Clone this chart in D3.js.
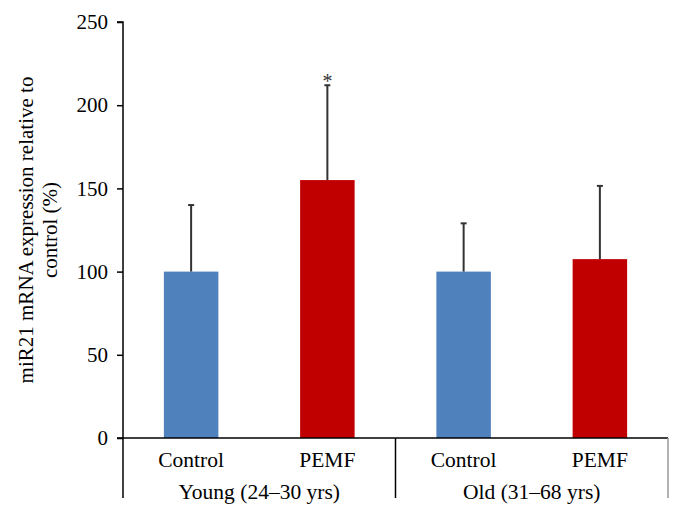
<!DOCTYPE html>
<html>
<head>
<meta charset="utf-8">
<script src="https://cdn.jsdelivr.net/npm/d3@7"></script>
<style>
body { margin:0; background:#fff; }
text { font-family: "Liberation Serif", "Times New Roman", serif; }
</style>
</head>
<body>
<script>
const width = 683;
const height = 520;
const margin = {top:22, right:15, bottom:82, left:123};

const groups = ["Young (24\u201330 yrs)", "Old (31\u201368 yrs)"];
const treatments = ["Control", "PEMF"];
const means = [100, 155, 100, 107.5];
const errors = [40, 57, 29, 44];
const stars = ["", "*", "", ""];
const yTicks = [0, 50, 100, 150, 200, 250];
const colors = {Control:"#4f81bd", PEMF:"#c00000"};

const data = means.map((m,i)=>({
    key: i,
    group: groups[Math.floor(i/2)],
    name: treatments[i%2],
    value: m,
    err: errors[i],
    star: stars[i]
}));

const svg = d3.select("body").append("svg")
.attr("width",width)
.attr("height",height);

const x = d3.scaleBand()
.domain(data.map(d=>d.key))
.range([margin.left, width-margin.right])
.paddingInner(0.6)
.paddingOuter(0.3);

const y = d3.scaleLinear().domain([0,250]).range([height-margin.bottom, margin.top]);

// bars
svg.selectAll(".bar")
.data(data)
.join("rect")
.attr("class","bar")
.attr("x", d=>x(d.key))
.attr("y", d=>y(d.value))
.attr("width", x.bandwidth())
.attr("height", d=>y(0)-y(d.value))
.attr("fill", d=>colors[d.name]);

// error bars (upper only)
const eb = svg.append("g").attr("stroke","#333").attr("stroke-width",2);
eb.selectAll(".err")
.data(data)
.join("line")
.attr("x1", d=>x(d.key)+x.bandwidth()/2)
.attr("x2", d=>x(d.key)+x.bandwidth()/2)
.attr("y1", d=>y(d.value))
.attr("y2", d=>y(d.value+d.err));
eb.selectAll(".cap")
.data(data)
.join("line")
.attr("x1", d=>x(d.key)+x.bandwidth()/2-3)
.attr("x2", d=>x(d.key)+x.bandwidth()/2+3)
.attr("y1", d=>y(d.value+d.err))
.attr("y2", d=>y(d.value+d.err));

svg.selectAll(".star")
.data(data.filter(d=>d.star))
.join("text")
.attr("x", d=>x(d.key)+x.bandwidth()/2)
.attr("y", d=>y(d.value+d.err)+3)
.attr("text-anchor","middle")
.style("font-size","20px")
.style("fill","#333")
.text(d=>d.star);

// y axis
const yAxis = svg.append("g")
.attr("transform",`translate(${margin.left},0)`)
.call(d3.axisLeft(y).tickValues(yTicks).tickSize(6).tickPadding(9));
yAxis.select(".domain").attr("stroke","#000").attr("stroke-width",1.5).attr("d",`M-6,${y(250)}H0V${y(0)}`);
yAxis.selectAll(".tick line").attr("stroke","#000").attr("stroke-width",1.5);
yAxis.selectAll(".tick text").style("font-size","21px").style("font-family","Liberation Serif").attr("fill","#000");

// x axis line
const x0 = margin.left, x1 = width-margin.right;
svg.append("line")
.attr("x1", x0-6).attr("x2", x1)
.attr("y1", y(0)).attr("y2", y(0))
.attr("stroke","#000").attr("stroke-width",1.5);

// group separators
const groupStep = (x1-x0)/groups.length;
const sepX = d3.range(groups.length+1).map(i=>x0+i*groupStep);
svg.selectAll(".sep")
.data(sepX)
.join("line")
.attr("x1", d=>d).attr("x2", d=>d)
.attr("y1", y(0)).attr("y2", y(0)+60)
.attr("stroke", (d,i)=> i===groups.length ? "#999" : "#000")
.attr("stroke-width",1.5);

// category labels
svg.selectAll(".cat")
.data(data)
.join("text")
.attr("x", d=>x(d.key)+x.bandwidth()/2)
.attr("y", y(0)+29)
.attr("text-anchor","middle")
.style("font-size","21.5px")
.text(d=>d.name);

svg.selectAll(".grp")
.data(groups)
.join("text")
.attr("x", (d,i)=>x0+(i+0.5)*groupStep)
.attr("y", y(0)+61)
.attr("text-anchor","middle")
.style("font-size","21.5px")
.text(d=>d);

// y title
const ty = svg.append("text")
.attr("transform",`translate(0,${(y(0)+y(250))/2}) rotate(-90)`)
.attr("text-anchor","middle")
.style("font-size","21px");
ty.append("tspan").attr("x",0).attr("y",33).text("miR21 mRNA expression relative to");
ty.append("tspan").attr("x",0).attr("y",57).text("control (%)");
</script>
</body>
</html>
